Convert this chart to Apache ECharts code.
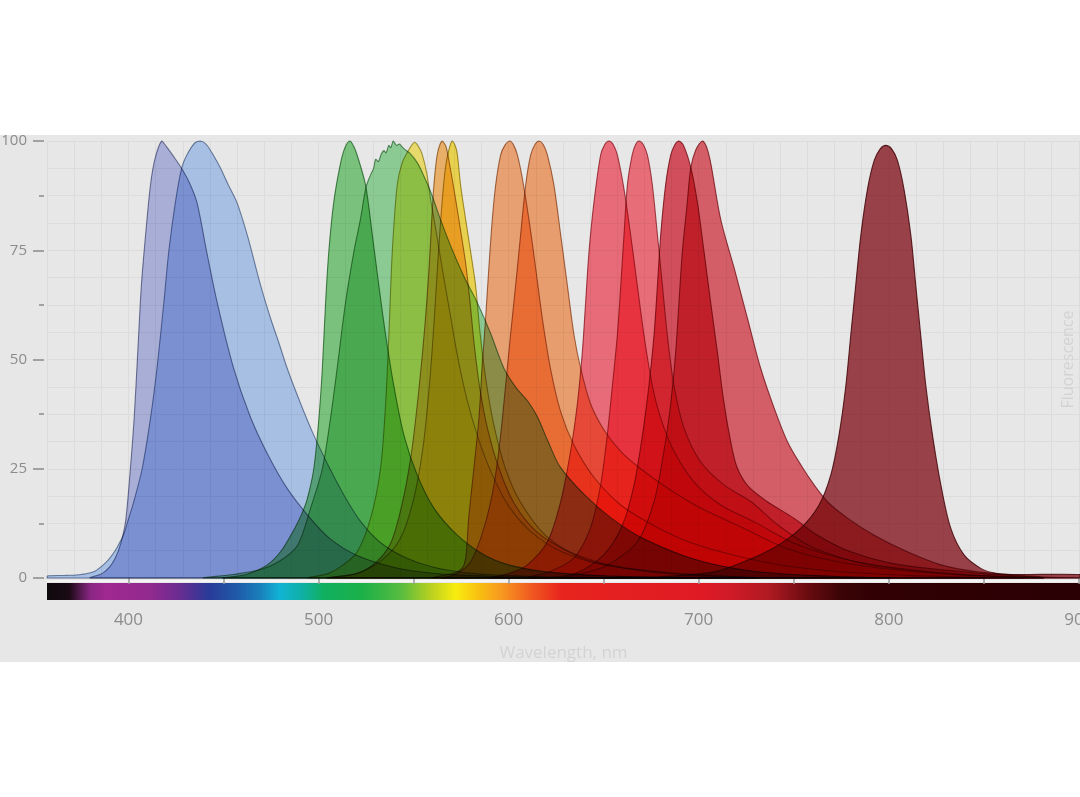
<!DOCTYPE html>
<html>
<head>
<meta charset="utf-8">
<title>Fluorescence spectra</title>
<script src="https://cdn.jsdelivr.net/npm/echarts@6.0.0/dist/echarts.min.js"></script>
<style>
    html, body { margin: 0; padding: 0; background: #ffffff; }
    #main { position: absolute; left: 0; top: 135px; width: 1080px; height: 527px; }
</style>
</head>
<body>
<div id="main"></div>
<script>
// axis ranges / ticks
var xMin = 2500 / 7;
var xMax = 900.6;
var gridStep = 100 / 7;
var xLabelValues = [400, 500, 600, 700, 800, 900];
var xTickValues = [400, 450, 500, 550, 600, 650, 700, 750, 800, 850, 900];

// emission spectra [wavelength nm, % fluorescence]
var violet = [[380,0],[386,1],[390,2.5],[393,4.5],[396,8],[398.5,13],[401,25],[403,36.6],[404.9,51.8],[406.8,67],[409,78.5],[411.6,90],[414,96],[417.5,100],[420,98.7],[424,96.3],[428,93.7],[432,90.5],[436,86],[441,75],[446.7,63],[455,48.5],[464,37],[473,28.5],[483.5,20.5],[495,14],[506,9],[520,5.2],[540,2.4],[560,1.1],[590,0.4],[620,0]];
var blue = [[357.2,0],[357.5,0.5],[368,0.6],[375,0.8],[382,1.5],[388,3.5],[391,5],[394,7],[397.5,10],[400,13.5],[402.8,17.5],[407.2,25],[411.6,36.6],[415,48],[418.6,63],[421.2,74.7],[424.7,86],[428,93.8],[431,97],[435,99.6],[438,100],[441,99.2],[445,96.5],[448.4,93.8],[452.5,90],[457,86],[462.5,78.5],[469.5,67],[474.7,59.5],[479,54],[483.5,48],[490.5,40],[497.5,32.7],[506,25],[514,18.5],[522,13],[532,8.3],[545,4.8],[560,2.5],[580,1.1],[610,0.4],[640,0]];
var green = [[450,0],[462,0.8],[473,3],[480,6],[487,11],[491,14.5],[494,18],[497.5,25],[500.2,36.6],[502,48],[503.7,63],[505.4,74.7],[508,86],[511.6,95],[514,98.6],[516.5,100],[518.5,98.8],[520.3,96.8],[524.7,90],[528.3,78.5],[531.7,67],[535.3,55.6],[539.6,44],[544.9,32.7],[551.9,23.6],[560.7,16],[573,9.8],[587,5.3],[600,3],[620,1.4],[650,0.5],[690,0]];
var greenBroad = [[440,0],[455,0.8],[470,2],[480,4],[489,7.5],[495.8,16],[502,25],[506.3,36.6],[509.8,48],[514.2,63],[518.6,74.7],[522,82],[525,89.5],[527.4,92.3],[529,93.8],[530,95.8],[531.5,95.3],[533,97],[534.4,97.8],[535.5,97.3],[537,99],[538,98.5],[539.3,100],[541,99],[542.5,99.3],[545,98.2],[548,97.2],[552,95],[555.4,92],[559,88.4],[564.2,82],[569.5,76],[576.5,69],[583.5,63],[590.5,56],[597.5,48],[604,43.5],[610,40.5],[615,37],[621,31],[627,25.5],[640,19],[654,13.7],[671,9],[700,4],[730,1.5],[770,0.4],[800,0]];
var yellow = [[495,0],[505,1],[513,3],[520.4,6],[527.4,13.7],[532.6,25],[535.3,40],[537,55.6],[538.8,74.7],[541.4,90],[544,95],[547.5,98],[550.5,99.7],[552.5,98.8],[554.5,97],[557,92.5],[559,86.5],[561.6,80],[565,71],[569,61],[573,51],[578,41],[584,32],[591,24],[600,16.5],[612,10.5],[628,6],[650,3],[690,1],[730,0]];
var orange = [[505,0],[520,1],[530,3.5],[538,8],[544,17],[549,29],[553,44],[556,58],[558.3,72],[559.8,84],[560.7,90],[562.5,97],[565,100],[567,98.8],[568.6,95.5],[572,87],[574.7,79.6],[577.4,72],[579.5,64],[582,53],[585,43],[589,34],[595,25],[603,17],[615,10.5],[632,6],[655,2.8],[690,0.9],[730,0]];
var yellow2 = [[505,0],[520,1],[533,4],[543,9],[550,18],[555,30],[558.5,45],[561,60],[563,74],[565,86],[566.8,94],[568.6,98],[570.3,100],[572,98.8],[573,97],[574.7,90],[577.4,82],[580,74.7],[582.6,67],[585,56],[588,45.5],[592,35.5],[598,25.5],[606,17.5],[620,9.5],[640,4.3],[670,1.6],[700,0.5],[730,0]];
var orange2 = [[560,0],[568,0.8],[572,1.2],[575.5,2.2],[577.4,4.5],[579,13.7],[581.7,25],[584.4,36.6],[586,48],[587.9,59.5],[589.6,71],[591.4,82],[593.2,90],[595.8,96.8],[598,99],[600.7,100],[602.7,99],[604.6,96.8],[607.2,91.5],[610.7,82],[614.2,71],[617.7,59.5],[622,48],[627.4,38],[634.4,30.4],[645,23],[659,16.7],[673,12.8],[690.5,9],[711.6,6],[740,3.2],[770,1.6],[810,0.6],[850,0]];
var orange3 = [[565,0],[572,0.8],[580,3.7],[587,11.4],[592.3,21.3],[595.8,32.7],[598.4,44],[601,55.6],[603.7,67],[606.3,78.5],[609,90],[611.6,96.8],[614,99.3],[616,100],[618.2,99.2],[620.4,96.8],[623.8,90],[627.4,78.5],[630.9,67],[634.4,55.6],[637.9,48],[643,40],[650,34],[659,29],[669.5,25],[683.5,20.6],[701,16],[723.7,11.4],[745,7],[770,4],[800,2],[840,0.6],[880,0]];
var red1 = [[590,0],[600,1],[609.8,3],[620.4,8.3],[627.4,17.5],[632.6,29],[636.2,40],[638.8,51.8],[640.5,63],[642.3,74.7],[644.9,86],[648.4,96.8],[650.6,99.2],[652.8,100],[655,99.2],[657.2,96.8],[660.7,89],[664.2,78.5],[667.7,67],[671.2,55.6],[675.6,44],[680,36.6],[687,29],[697.5,22],[711.6,16.7],[729,12.9],[750,8],[775,4.5],[800,2.5],[840,0.8],[880,0]];
var red2 = [[610,0],[622,1.5],[634.4,4.6],[643,11.4],[648.4,21.3],[651.9,32.7],[654.6,44],[657.2,55.6],[659,67],[660.7,78.5],[662.5,90],[665,96.8],[666.8,99.2],[668.6,100],[670.8,99.2],[673,96.8],[675.6,90],[678.3,78.5],[680.9,67],[683.5,55.6],[687,44],[692.3,34.3],[701,26.6],[713.3,21.3],[727.4,17.5],[742,12],[760,7],[790,3],[830,1],[870,0]];
var red3 = [[620,0],[635,1],[650,5.3],[659.8,12],[666,21.3],[670.4,32.7],[673.8,44],[676.5,55.6],[678.3,67],[680,78.5],[682.6,90],[685.3,96.8],[687.5,99.2],[689.6,100],[692,99],[695.8,94],[699.3,86],[702.8,74.7],[706.3,63],[709.8,51.8],[713,41],[716.5,32],[720,25.5],[726,21],[736,17.5],[750,13.7],[762.5,9.8],[780,6],[806,3],[850,1],[880,0]];
var red4 = [[630,0],[650,2.5],[667.7,8.3],[676.5,17.5],[681.7,29],[685.3,40],[687.9,51.8],[689.6,63],[691.4,74.7],[694,86],[695.8,93.8],[698.5,98],[701.9,100],[704,98.8],[706.3,95],[711.6,82],[718.6,71],[725.6,59.5],[732.6,48],[739.6,39],[746.7,31.2],[753.7,25.9],[760.7,21.3],[767.7,17.5],[778.3,13.7],[792.3,9.8],[809.8,6],[827.4,3],[846.7,1.4],[880,0.3],[900,0]];
var farRed = [[650,0],[680,0.3],[708,1.4],[723.8,3.7],[739.6,6.9],[753.7,11.4],[763.3,16.7],[769.5,23.6],[773.8,32.7],[777.4,44],[780,55.6],[782.6,67],[785.3,78.5],[788.8,89],[792.3,95.5],[795.5,98.2],[798.4,99],[801.5,98.2],[804.6,95.5],[808,89],[811.6,78.5],[814.2,67],[816.8,55.6],[819.5,44],[823,32.7],[827.4,21.3],[832.6,11.4],[839.6,5.3],[848.4,2.2],[855,1.2],[865,0.8],[900.6,0.8],[900.6,0]];

// colour bar under the axis: [wavelength, colour]
var spectrumStops = [
    [357, '#0a0a0a'], [373, '#1a0a14'], [384, '#8a2684'], [392, '#a0288f'], [415, '#922a90'],
    [430, '#6a2c90'], [445, '#2a3a98'], [460, '#1f5aa8'], [472, '#1a80bd'], [482, '#10b4d4'],
    [493, '#10b0a8'], [505, '#10b060'], [525, '#1cb048'], [545, '#58bc40'], [560, '#b8d020'],
    [573, '#f8ec10'], [585, '#f8c010'], [597, '#f89820'], [612, '#f05a20'], [628, '#e8241e'],
    [700, '#e01a24'], [715, '#d01a28'], [735, '#b01a22'], [755, '#6a0c10'], [772, '#3c0406'],
    [790, '#300004'], [901, '#2a0004']
];

var curves = [
    { name: 'violet', data: violet, fill: '#bac0ed' },
    { name: 'blue', data: blue, fill: '#b9d3fa' },
    { name: 'green', data: green, fill: '#85d589' },
    { name: 'greenBroad', data: greenBroad, fill: '#9bdfa4' },
    { name: 'yellow', data: yellow, fill: '#fff077' },
    { name: 'orange', data: orange, fill: '#ffc172' },
    { name: 'yellow2', data: yellow2, fill: '#ffe756' },
    { name: 'orange2', data: orange2, fill: '#ffb17d' },
    { name: 'orange3', data: orange3, fill: '#ffad78' },
    { name: 'red1', data: red1, fill: '#ff7684' },
    { name: 'red2', data: red2, fill: '#ff7986' },
    { name: 'red3', data: red3, fill: '#e75665' },
    { name: 'red4', data: red4, fill: '#ea6872' },
    { name: 'farRed', data: farRed, fill: '#a9474f' }
];

// 轮廓线: 填充色按比例变暗
function darken(hex, k) {
    var n = parseInt(hex.slice(1), 16);
    var r = Math.round(((n >> 16) & 255) * k);
    var g = Math.round(((n >> 8) & 255) * k);
    var b = Math.round((n & 255) * k);
    return 'rgb(' + r + ',' + g + ',' + b + ')';
}

var myChart = echarts.init(document.getElementById('main'));

// one filled polygon per spectrum, multiplied over the background
function makeSeries(c) {
    var pts = c.data;
    return {
        name: c.name,
        type: 'custom',
        blendMode: 'multiply',
        data: pts,
        renderItem: function (params, api) {
            if (params.dataIndex !== 0) {
                return null;
            }
            var poly = pts.map(function (p) { return api.coord(p); });
            var last = pts[pts.length - 1];
            if (last[1] !== 0) {
                poly.push(api.coord([last[0], 0]));
            }
            if (pts[0][1] !== 0) {
                poly.push(api.coord([pts[0][0], 0]));
            }
            var tl = api.coord([xMin, 100]);
            var br = api.coord([xMax, 0]);
            return {
                type: 'polygon',
                shape: { points: poly, smooth: 0.3, smoothConstraint: [tl, br] },
                style: { fill: c.fill, stroke: darken(c.fill, 0.68), lineWidth: 1.1 }
            };
        }
    };
}

var span = xMax - xMin;
var barGradient = {
    type: 'linear', x: 0, y: 0, x2: 1, y2: 0,
    colorStops: spectrumStops.map(function (s) {
        return { offset: Math.min(1, Math.max(0, (s[0] - xMin) / span)), color: s[1] };
    })
};

var option = {
    animation: false,
    backgroundColor: '#e7e7e7',
    textStyle: { fontFamily: 'Open Sans' },
    grid: { left: 47, right: 0, top: 6, bottom: 84, containLabel: false, outerBoundsMode: 'none' },
    xAxis: [
        {
            // data axis: grid lines + colour bar
            type: 'value', min: xMin, max: xMax, interval: gridStep,
            position: 'bottom', offset: 13,
            axisLine: { show: true, onZero: false, lineStyle: { width: 17, color: barGradient, cap: 'butt' } },
            axisTick: { show: false },
            axisLabel: { show: false },
            splitLine: { show: true, lineStyle: { color: '#dcdcdc', width: 1 } }
        },
        {
            // ticks, labels, name
            type: 'value', min: xMin, max: xMax,
            position: 'bottom', offset: 22,
            axisLine: { show: false },
            axisTick: { show: true, customValues: xTickValues, length: 6, lineStyle: { color: '#9a9a9a', width: 1.5 } },
            axisLabel: { customValues: xLabelValues, color: '#8c8c8c', fontSize: 17, margin: 12 },
            splitLine: { show: false },
            name: 'Wavelength, nm', nameLocation: 'middle', nameGap: 45,
            nameTextStyle: { color: '#d3d3d3', fontSize: 17 }
        },
        {
            // thin light strip between baseline and colour bar
            type: 'value', min: xMin, max: xMax,
            position: 'bottom', offset: 3,
            axisLine: { show: true, onZero: false, lineStyle: { width: 2, color: '#f4f4f4', cap: 'butt' } },
            axisTick: { show: false }, axisLabel: { show: false }, splitLine: { show: false }
        }
    ],
    yAxis: [
        {
            type: 'value', min: 0, max: 100, interval: 25, position: 'left', offset: 3,
            axisLine: { show: false },
            axisTick: { show: true, length: 11, lineStyle: { color: '#8c8c8c', width: 1.5 } },
            minorTick: { show: true, splitNumber: 2, length: 5, lineStyle: { color: '#8c8c8c', width: 1.5 } },
            axisLabel: { color: '#8c8c8c', fontSize: 15, margin: 17 },
            splitLine: { show: false }
        },
        {
            type: 'value', min: 0, max: 100, interval: 6.25, position: 'right',
            axisLine: { show: false }, axisTick: { show: false }, axisLabel: { show: false },
            splitLine: { show: true, lineStyle: { color: '#dcdcdc', width: 1 } },
            name: 'Fluorescence', nameLocation: 'middle', nameGap: -20,
            nameTextStyle: { color: '#d3d3d3', fontSize: 16 }
        }
    ],
    series: curves.map(makeSeries)
};

myChart.setOption(option);
window.addEventListener('resize', function () {
    myChart.resize();
});
</script>
</body>
</html>
